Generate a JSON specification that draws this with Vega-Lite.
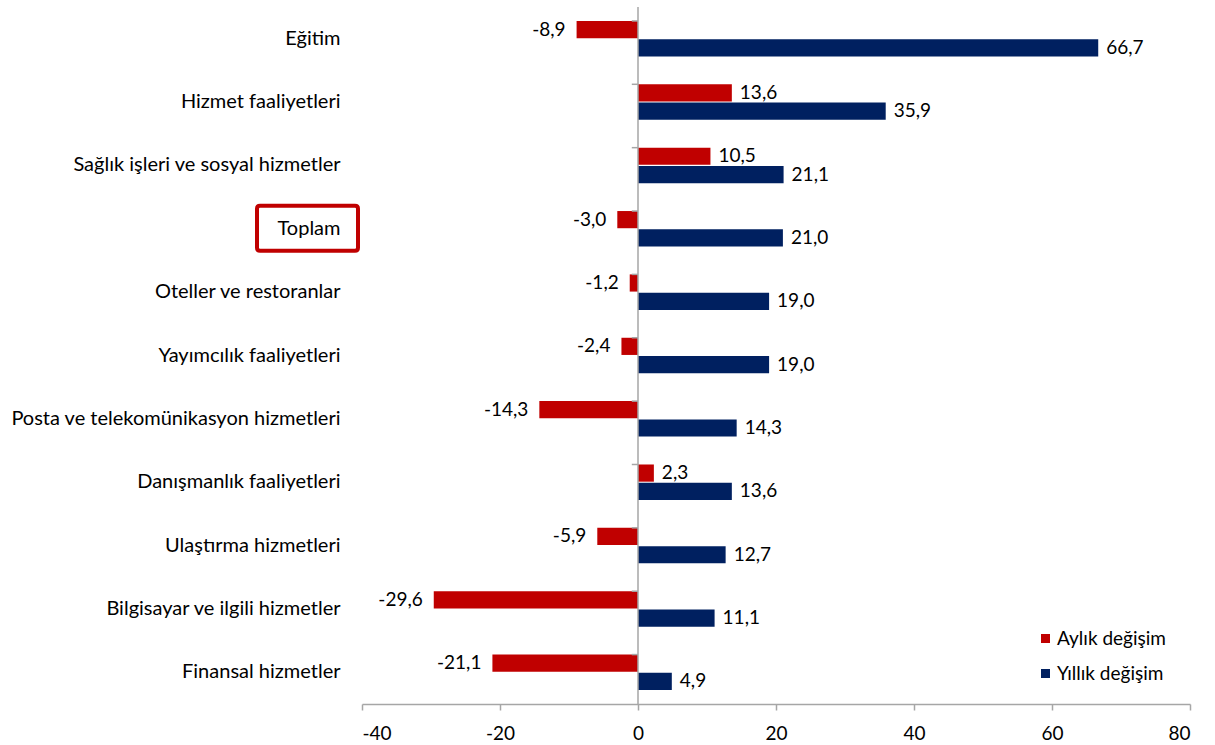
{
  "$schema": "https://vega.github.io/schema/vega-lite/v6.json",
  "autosize": {"type": "none"},
  "width": 828,
  "height": 697,
  "padding": {"left": 362, "top": 7, "right": 25, "bottom": 41},
  "background": "white",
  "config": {
    "view": {"stroke": null},
    "font": "Lato",
    "locale": {"number": {"decimal": ",", "thousands": ".", "grouping": [3], "currency": ["", " TL"], "minus": "-"}}
  },
  "data": {
    "values": [
      {"kategori": "Eğitim", "seri": "Aylık değişim", "deger": -8.9},
      {"kategori": "Eğitim", "seri": "Yıllık değişim", "deger": 66.7},
      {"kategori": "Hizmet faaliyetleri", "seri": "Aylık değişim", "deger": 13.6},
      {"kategori": "Hizmet faaliyetleri", "seri": "Yıllık değişim", "deger": 35.9},
      {"kategori": "Sağlık işleri ve sosyal hizmetler", "seri": "Aylık değişim", "deger": 10.5},
      {"kategori": "Sağlık işleri ve sosyal hizmetler", "seri": "Yıllık değişim", "deger": 21.1},
      {"kategori": "Toplam", "seri": "Aylık değişim", "deger": -3.0},
      {"kategori": "Toplam", "seri": "Yıllık değişim", "deger": 21.0},
      {"kategori": "Oteller ve restoranlar", "seri": "Aylık değişim", "deger": -1.2},
      {"kategori": "Oteller ve restoranlar", "seri": "Yıllık değişim", "deger": 19.0},
      {"kategori": "Yayımcılık faaliyetleri", "seri": "Aylık değişim", "deger": -2.4},
      {"kategori": "Yayımcılık faaliyetleri", "seri": "Yıllık değişim", "deger": 19.0},
      {"kategori": "Posta ve telekomünikasyon hizmetleri", "seri": "Aylık değişim", "deger": -14.3},
      {"kategori": "Posta ve telekomünikasyon hizmetleri", "seri": "Yıllık değişim", "deger": 14.3},
      {"kategori": "Danışmanlık faaliyetleri", "seri": "Aylık değişim", "deger": 2.3},
      {"kategori": "Danışmanlık faaliyetleri", "seri": "Yıllık değişim", "deger": 13.6},
      {"kategori": "Ulaştırma hizmetleri", "seri": "Aylık değişim", "deger": -5.9},
      {"kategori": "Ulaştırma hizmetleri", "seri": "Yıllık değişim", "deger": 12.7},
      {"kategori": "Bilgisayar ve ilgili hizmetler", "seri": "Aylık değişim", "deger": -29.6},
      {"kategori": "Bilgisayar ve ilgili hizmetler", "seri": "Yıllık değişim", "deger": 11.1},
      {"kategori": "Finansal hizmetler", "seri": "Aylık değişim", "deger": -21.1},
      {"kategori": "Finansal hizmetler", "seri": "Yıllık değişim", "deger": 4.9}
    ]
  },
  "encoding": {
    "y": {
      "field": "kategori",
      "type": "nominal",
      "sort": null,
      "scale": {"paddingInner": 0.44, "paddingOuter": 0.22},
      "axis": {
        "title": null,
        "domain": false,
        "ticks": false,
        "labelPadding": 22,
        "labelFontSize": 20,
        "labelColor": "#000000",
        "labelFont": "Lato",
        "labelLimit": 400
      }
    }
  },
  "layer": [
    {
      "mark": {"type": "bar"},
      "encoding": {
        "x": {
          "field": "deger",
          "type": "quantitative",
          "scale": {"domain": [-40, 80], "nice": false, "zero": false},
          "axis": {
            "title": null,
            "values": [-40, -20, 0, 20, 40, 60, 80],
            "grid": false,
            "domainColor": "#a6a6a6",
            "domainWidth": 1.5,
            "tickColor": "#a6a6a6",
            "tickWidth": 1.5,
            "tickSize": 6,
            "labelPadding": 14,
            "labelFontSize": 19,
            "labelColor": "#000000",
            "labelFont": "Lato",
            "format": "d"
          }
        },
        "yOffset": {"field": "seri", "type": "nominal", "sort": ["Aylık değişim", "Yıllık değişim"], "scale": {"paddingInner": 0.06}},
        "color": {
          "field": "seri",
          "type": "nominal",
          "sort": ["Aylık değişim", "Yıllık değişim"],
          "scale": {"domain": ["Aylık değişim", "Yıllık değişim"], "range": ["#C00000", "#002060"]},
          "legend": {
            "title": null,
            "orient": "none",
            "legendX": 674,
            "legendY": 622,
            "padding": 0,
            "symbolType": "square",
            "symbolSize": 81,
            "symbolStrokeWidth": 0,
            "labelFontSize": 19,
            "labelFont": "Lato",
            "labelColor": "#000000",
            "labelOffset": 2,
            "rowPadding": 15
          }
        }
      }
    },
    {
      "transform": [{"filter": "datum.deger >= 0"}],
      "mark": {"type": "text", "align": "left", "baseline": "middle", "dx": 8, "fontSize": 19, "font": "Lato", "color": "#000000"},
      "encoding": {
        "x": {"field": "deger", "type": "quantitative"},
        "yOffset": {"field": "seri", "type": "nominal", "sort": ["Aylık değişim", "Yıllık değişim"]},
        "text": {"field": "deger", "type": "quantitative", "format": ".1f"}
      }
    },
    {
      "transform": [{"filter": "datum.deger < 0"}],
      "mark": {"type": "text", "align": "right", "baseline": "middle", "dx": -11, "fontSize": 19, "font": "Lato", "color": "#000000"},
      "encoding": {
        "x": {"field": "deger", "type": "quantitative"},
        "yOffset": {"field": "seri", "type": "nominal", "sort": ["Aylık değişim", "Yıllık değişim"]},
        "text": {"field": "deger", "type": "quantitative", "format": ".1f"}
      }
    },
    {
      "data": {"values": [{"sifir": 0}]},
      "mark": {"type": "rule", "color": "#a6a6a6", "strokeWidth": 1.5},
      "encoding": {"x": {"field": "sifir", "type": "quantitative"}, "y": null}
    },
    {
      "transform": [{"filter": "datum.seri == 'Aylık değişim'"}],
      "mark": {"type": "rule", "color": "#a6a6a6", "strokeWidth": 1.5},
      "encoding": {
        "y": {"field": "kategori", "type": "nominal", "sort": null, "bandPosition": 0},
        "x": {"datum": -0.9},
        "x2": {"datum": 0}
      }
    },
    {
      "data": {"values": [{"kategori": "Toplam"}]},
      "mark": {
        "type": "point",
        "clip": false,
        "filled": false,
        "opacity": 1,
        "size": 400,
        "stroke": "#C00000",
        "strokeWidth": 4,
        "shape": "M -10.2 -2.3 H -0.7 Q -0.4 -2.3 -0.4 -2.0 V 1.9 Q -0.4 2.2 -0.7 2.2 H -10.2 Q -10.5 2.2 -10.5 1.9 V -2.0 Q -10.5 -2.3 -10.2 -2.3 Z"
      },
      "encoding": {
        "x": {"datum": -40},
        "y": {"field": "kategori", "type": "nominal", "sort": null}
      }
    }
  ]
}
